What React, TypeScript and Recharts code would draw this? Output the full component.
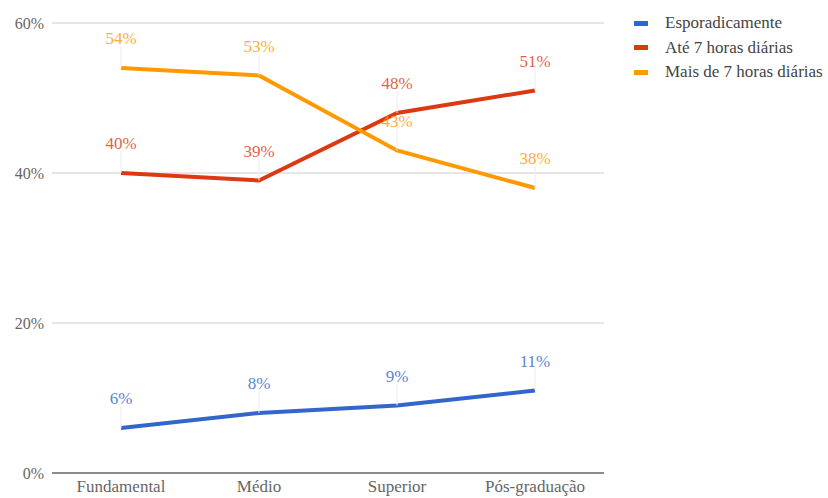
import { LineChart, Line, XAxis, YAxis, CartesianGrid, LabelList } from "recharts";

const categories = ["Fundamental", "Médio", "Superior", "Pós-graduação"];
const esporadicamente = [6, 8, 9, 11];
const ate7 = [40, 39, 48, 51];
const mais7 = [54, 53, 43, 38];
const yTicks = [0, 20, 40, 60];

const series = [
  { key: "esp", name: "Esporadicamente", color: "#3366cc", values: esporadicamente },
  { key: "ate", name: "Até 7 horas diárias", color: "#dc3912", values: ate7 },
  { key: "mais", name: "Mais de 7 horas diárias", color: "#ff9900", values: mais7 },
];

const data = categories.map((c, i) => ({
  cat: c,
  esp: esporadicamente[i],
  ate: ate7[i],
  mais: mais7[i],
}));

const FONT = "'Liberation Serif', 'DejaVu Serif', 'Noto Serif', Georgia, 'Times New Roman', serif";

function makeLabel(color: string) {
  return (props: any) => {
    const { x, y, value } = props;
    return (
      <g>
        <line x1={x} x2={x} y1={y - 22} y2={y} stroke="#ececec" strokeWidth={1} />
        <text
          x={x}
          y={y - 24}
          textAnchor="middle"
          fill={color}
          fontSize={17}
          style={{ fontFamily: FONT }}
          opacity={0.8}
        >
          {value}%
        </text>
      </g>
    );
  };
}

function LegendBox() {
  return (
    <div style={{ position: "absolute", left: 634, top: 11, fontFamily: FONT, fontSize: 17, color: "#444" }}>
      {series.map((s) => (
        <div key={s.key} style={{ display: "flex", alignItems: "center", height: 24.5 }}>
          <div style={{ width: 14, height: 5, background: s.color, marginRight: 17 }} />
          <span style={{ whiteSpace: "nowrap" }}>{s.name}</span>
        </div>
      ))}
    </div>
  );
}

export default function App() {
  return (
    <div style={{ position: "absolute", left: 0, top: 0, width: 828, height: 498, background: "#fff", fontFamily: FONT, overflow: "hidden" }}>
      <LineChart width={828} height={498} data={data} margin={{ top: 23, right: 224, left: 0, bottom: 0 }} style={{ fontFamily: FONT }}>
        <CartesianGrid horizontal vertical={false} stroke="#cccccc" />
        <XAxis
          dataKey="cat"
          height={25}
          padding={{ left: 69, right: 69 }}
          tickLine={false}
          axisLine={{ stroke: "#333333" }}
          tick={{ fill: "#666", fontSize: 17, style: { fontFamily: FONT } }}
          tickMargin={1}
          interval={0}
        />
        <YAxis
          width={52}
          domain={[0, 60]}
          ticks={yTicks}
          axisLine={false}
          tickLine={false}
          tickFormatter={(v: number) => `${v}%`}
          tick={{ fill: "#666", fontSize: 16, style: { fontFamily: FONT } }}
          tickMargin={2}
        />
        {series.map((s) => (
          <Line
            key={s.key}
            dataKey={s.key}
            name={s.name}
            type="linear"
            stroke={s.color}
            strokeWidth={4}
            dot={false}
            activeDot={false}
            isAnimationActive={false}
          >
            <LabelList dataKey={s.key} content={makeLabel(s.color)} />
          </Line>
        ))}
      </LineChart>
      <LegendBox />
    </div>
  );
}
